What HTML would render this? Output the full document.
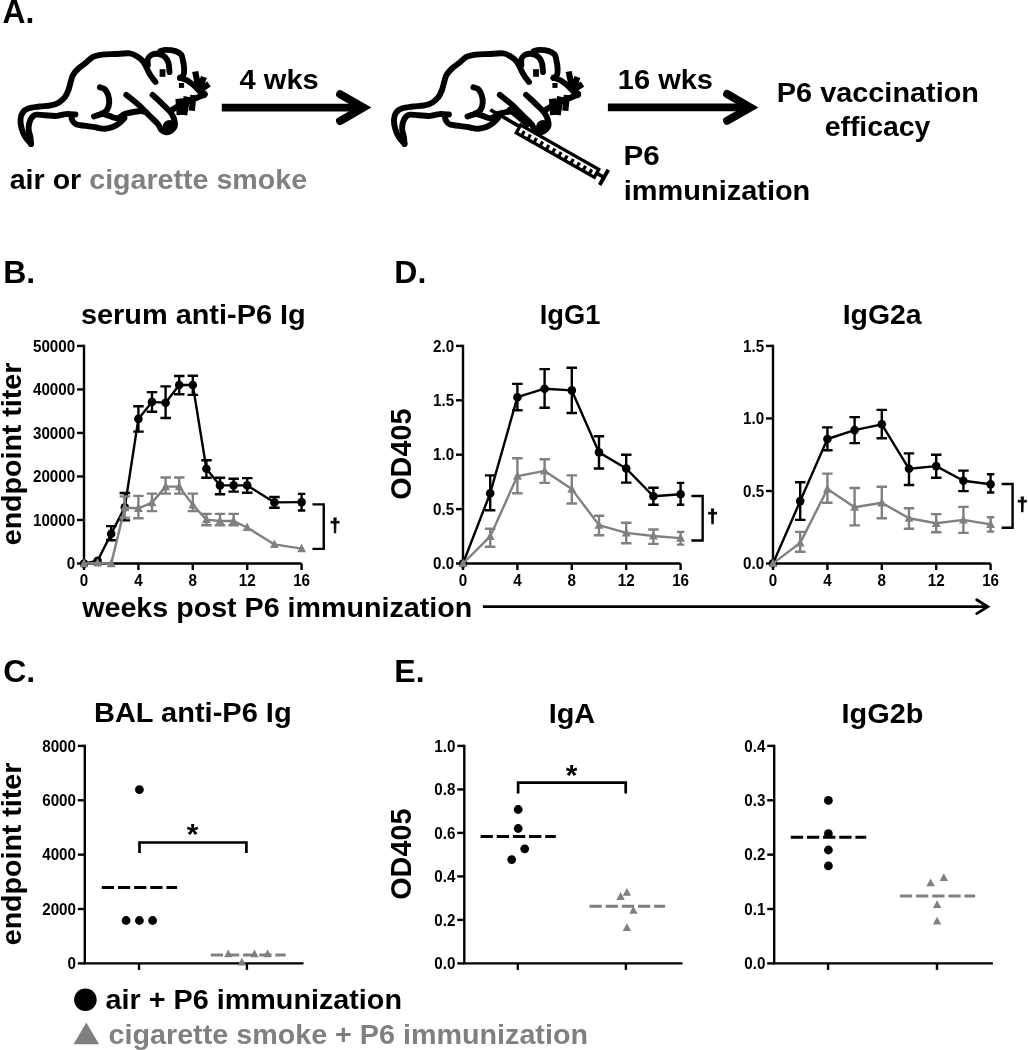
<!DOCTYPE html>
<html><head><meta charset="utf-8"><title>Figure</title>
<style>
html,body{margin:0;padding:0;background:#fff;}
svg{display:block}
svg text{font-family:"Liberation Sans",Arial,Helvetica,sans-serif;font-weight:bold;}
</style></head><body>
<svg width="1028" height="1050" viewBox="0 0 1028 1050">
<rect width="1028" height="1050" fill="#fff"/>
<text x="2.5" y="22.9" font-size="33.5" fill="#000" text-anchor="start" textLength="31.8" lengthAdjust="spacingAndGlyphs" >A.</text>
<text x="3.2" y="283.3" font-size="32" fill="#000" text-anchor="start" >B.</text>
<text x="394.3" y="283.3" font-size="32" fill="#000" text-anchor="start" >D.</text>
<text x="3.2" y="682.3" font-size="32" fill="#000" text-anchor="start" >C.</text>
<text x="394.3" y="682.3" font-size="32" fill="#000" text-anchor="start" >E.</text>
<g transform="translate(0,0)" fill="none" stroke="#000" stroke-width="5.9" stroke-linecap="round" stroke-linejoin="round">
<path d="M31.0,143.9 C30.0,142.7 26.8,139.4 25.2,136.9 C23.6,134.4 22.5,131.6 21.7,128.7 C20.9,125.8 20.3,122.1 20.5,119.4 C20.7,116.7 21.4,114.2 22.8,112.4 C24.2,110.6 26.0,109.3 28.7,108.3 C31.4,107.3 35.5,107.0 39.2,106.5 C42.9,106.0 47.6,106.1 50.9,105.4 C54.2,104.7 56.7,103.8 59.0,102.4 C61.3,101.0 63.3,99.2 64.9,97.2 C66.5,95.2 67.4,92.7 68.4,90.2 C69.4,87.7 69.9,84.5 70.7,82.0 C71.5,79.5 71.6,77.3 73.0,75.0 C74.4,72.7 76.8,70.0 78.9,68.0 C81.1,66.0 83.6,64.6 85.9,62.8 C88.2,60.9 90.2,58.3 92.9,56.9 C95.6,55.5 98.5,55.1 102.2,54.6 C105.9,54.1 110.5,54.2 115.1,54.0 C119.7,53.8 126.2,53.0 129.8,53.4 C133.4,53.8 134.7,55.0 136.8,56.3 C139.0,57.6 141.1,59.2 142.7,61.0 C144.3,62.8 145.0,64.6 146.2,66.8 C147.4,69.0 148.1,71.4 149.7,73.9 C151.2,76.4 154.5,80.7 155.5,82.0"/>
<path d="M31.0,143.9 C30.9,142.7 30.8,139.2 30.4,136.9 C30.0,134.6 28.9,132.2 28.7,129.9 C28.5,127.6 28.7,125.1 29.3,122.9 C29.9,120.8 31.0,118.4 32.2,117.0 C33.4,115.6 34.2,115.0 36.3,114.7 C38.4,114.4 41.6,115.1 45.0,115.3 C48.4,115.5 53.2,116.1 56.7,115.9 C60.2,115.7 62.9,114.3 66.0,114.1 C69.1,113.9 73.8,114.4 75.4,114.5"/>
<path d="M71.3,115.9 C71.5,116.7 71.5,119.0 72.4,120.5 C73.3,122.0 74.2,123.7 76.5,124.6 C78.8,125.5 82.6,125.3 85.9,125.8 C89.2,126.3 93.3,127.0 96.4,127.5 C99.5,128.0 101.9,128.8 104.6,128.7 C107.3,128.6 110.2,128.0 112.7,127.0 C115.2,126.0 117.8,124.4 119.7,122.9 C121.7,121.4 123.6,119.0 124.4,118.2"/>
<path d="M99.9,87.3 C100.7,87.6 103.2,87.7 104.6,89.0 C106.0,90.3 107.3,92.6 108.1,94.9 C108.9,97.2 109.4,100.5 109.2,103.0 C109.0,105.5 108.1,108.2 106.9,110.0 C105.7,111.8 104.4,112.4 102.2,113.5 C100.0,114.6 95.4,116.0 94.0,116.5"/>
<path d="M102.2,113.5 C103.4,113.9 106.7,115.1 109.2,115.9 C111.7,116.7 114.7,118.5 117.4,118.2 C120.1,117.9 121.6,115.1 125.2,113.9 C128.8,112.7 135.9,111.6 139.2,111.2 C142.5,110.8 144.0,111.7 145.0,111.8"/>
<path d="M147.9,65.1 C147.9,64.0 147.2,60.5 147.9,58.7 C148.6,57.0 150.2,55.4 152.0,54.6 C153.8,53.8 156.8,53.6 159.0,54.0 C161.2,54.4 163.3,55.4 164.9,56.9 C166.5,58.4 167.6,60.3 168.4,62.8 C169.2,65.3 169.3,70.5 169.5,72.1"/>
<path d="M160.2,51.1 C161.2,50.9 163.5,49.9 166.0,49.9 C168.5,49.9 172.9,50.3 175.4,51.1 C177.9,51.9 179.9,53.0 181.2,54.6 C182.5,56.2 182.5,58.8 183.0,61.0 C183.5,63.2 184.0,65.7 184.1,68.0 C184.2,70.3 184.2,73.3 183.5,75.0 C182.8,76.7 180.6,77.4 180.0,77.9"/>
<path d="M180.0,77.9 C181.2,78.3 184.7,79.0 187.0,80.3 C189.3,81.6 191.8,83.7 194.0,85.5 C196.2,87.3 198.1,89.9 199.9,91.4 C201.7,92.9 203.8,93.8 204.6,94.3"/>
<path d="M152.6,94.9 C153.7,95.9 156.9,98.8 159.0,100.7 C161.1,102.6 163.0,104.5 164.9,106.5 C166.8,108.5 169.1,110.2 170.7,112.4 C172.2,114.6 173.5,117.1 174.2,119.4 C174.9,121.7 175.4,124.5 174.8,126.4 C174.2,128.3 172.2,130.0 170.7,131.0 C169.2,132.0 167.6,132.4 166.0,132.2 C164.4,132.0 162.8,131.3 161.4,129.9 C160.1,128.5 159.5,126.0 157.9,124.0 C156.3,122.0 153.9,120.1 152.0,118.2 C150.1,116.3 148.3,114.5 146.2,112.4 C144.1,110.3 141.5,107.6 139.2,105.4 C136.9,103.2 134.3,101.2 132.2,99.5 C130.0,97.8 127.3,95.7 126.3,94.9"/>
<path d="M204.6,94.3 C202.7,95.2 197.0,97.7 192.9,99.5 C188.8,101.3 183.5,103.2 180.0,105.0 C176.5,106.8 173.3,109.2 172.0,110.0"/>
</g>
<g transform="translate(0,0)" fill="#000" stroke="none">
<ellipse cx="169.6" cy="126.6" rx="7" ry="6.6"/>
<rect x="159.6" y="69.2" width="5.8" height="7.6"/>
<rect x="178.9" y="83" width="5.2" height="4.9"/>
<circle cx="203.4" cy="94.3" r="4"/>
</g>
<g transform="translate(0,0)" fill="none" stroke="#000" stroke-width="6.2" stroke-linecap="butt">
<path d="M195.2,71.5 L198.7,89 M203.9,77 L199.9,87.9 M209,84 L199.9,90.2"/>
</g>
<g transform="translate(0,0)" fill="none" stroke="#000" stroke-linecap="butt">
<path d="M179.2,98.6 L180.4,115" stroke-width="7.6"/>
<path d="M187,96.6 L183.8,114.8" stroke-width="6.8"/>
<path d="M193.4,95 L191.8,110.8" stroke-width="6.2"/>
</g>
<g transform="translate(373.5,0)" fill="none" stroke="#000" stroke-width="5.9" stroke-linecap="round" stroke-linejoin="round">
<path d="M31.0,143.9 C30.0,142.7 26.8,139.4 25.2,136.9 C23.6,134.4 22.5,131.6 21.7,128.7 C20.9,125.8 20.3,122.1 20.5,119.4 C20.7,116.7 21.4,114.2 22.8,112.4 C24.2,110.6 26.0,109.3 28.7,108.3 C31.4,107.3 35.5,107.0 39.2,106.5 C42.9,106.0 47.6,106.1 50.9,105.4 C54.2,104.7 56.7,103.8 59.0,102.4 C61.3,101.0 63.3,99.2 64.9,97.2 C66.5,95.2 67.4,92.7 68.4,90.2 C69.4,87.7 69.9,84.5 70.7,82.0 C71.5,79.5 71.6,77.3 73.0,75.0 C74.4,72.7 76.8,70.0 78.9,68.0 C81.1,66.0 83.6,64.6 85.9,62.8 C88.2,60.9 90.2,58.3 92.9,56.9 C95.6,55.5 98.5,55.1 102.2,54.6 C105.9,54.1 110.5,54.2 115.1,54.0 C119.7,53.8 126.2,53.0 129.8,53.4 C133.4,53.8 134.7,55.0 136.8,56.3 C139.0,57.6 141.1,59.2 142.7,61.0 C144.3,62.8 145.0,64.6 146.2,66.8 C147.4,69.0 148.1,71.4 149.7,73.9 C151.2,76.4 154.5,80.7 155.5,82.0"/>
<path d="M31.0,143.9 C30.9,142.7 30.8,139.2 30.4,136.9 C30.0,134.6 28.9,132.2 28.7,129.9 C28.5,127.6 28.7,125.1 29.3,122.9 C29.9,120.8 31.0,118.4 32.2,117.0 C33.4,115.6 34.2,115.0 36.3,114.7 C38.4,114.4 41.6,115.1 45.0,115.3 C48.4,115.5 53.2,116.1 56.7,115.9 C60.2,115.7 62.9,114.3 66.0,114.1 C69.1,113.9 73.8,114.4 75.4,114.5"/>
<path d="M71.3,115.9 C71.5,116.7 71.5,119.0 72.4,120.5 C73.3,122.0 74.2,123.7 76.5,124.6 C78.8,125.5 82.6,125.3 85.9,125.8 C89.2,126.3 93.3,127.0 96.4,127.5 C99.5,128.0 101.9,128.8 104.6,128.7 C107.3,128.6 110.2,128.0 112.7,127.0 C115.2,126.0 117.8,124.4 119.7,122.9 C121.7,121.4 123.6,119.0 124.4,118.2"/>
<path d="M99.9,87.3 C100.7,87.6 103.2,87.7 104.6,89.0 C106.0,90.3 107.3,92.6 108.1,94.9 C108.9,97.2 109.4,100.5 109.2,103.0 C109.0,105.5 108.1,108.2 106.9,110.0 C105.7,111.8 104.4,112.4 102.2,113.5 C100.0,114.6 95.4,116.0 94.0,116.5"/>
<path d="M102.2,113.5 C103.4,113.9 106.7,115.1 109.2,115.9 C111.7,116.7 114.7,118.5 117.4,118.2 C120.1,117.9 121.6,115.1 125.2,113.9 C128.8,112.7 135.9,111.6 139.2,111.2 C142.5,110.8 144.0,111.7 145.0,111.8"/>
<path d="M147.9,65.1 C147.9,64.0 147.2,60.5 147.9,58.7 C148.6,57.0 150.2,55.4 152.0,54.6 C153.8,53.8 156.8,53.6 159.0,54.0 C161.2,54.4 163.3,55.4 164.9,56.9 C166.5,58.4 167.6,60.3 168.4,62.8 C169.2,65.3 169.3,70.5 169.5,72.1"/>
<path d="M160.2,51.1 C161.2,50.9 163.5,49.9 166.0,49.9 C168.5,49.9 172.9,50.3 175.4,51.1 C177.9,51.9 179.9,53.0 181.2,54.6 C182.5,56.2 182.5,58.8 183.0,61.0 C183.5,63.2 184.0,65.7 184.1,68.0 C184.2,70.3 184.2,73.3 183.5,75.0 C182.8,76.7 180.6,77.4 180.0,77.9"/>
<path d="M180.0,77.9 C181.2,78.3 184.7,79.0 187.0,80.3 C189.3,81.6 191.8,83.7 194.0,85.5 C196.2,87.3 198.1,89.9 199.9,91.4 C201.7,92.9 203.8,93.8 204.6,94.3"/>
<path d="M152.6,94.9 C153.7,95.9 156.9,98.8 159.0,100.7 C161.1,102.6 163.0,104.5 164.9,106.5 C166.8,108.5 169.1,110.2 170.7,112.4 C172.2,114.6 173.5,117.1 174.2,119.4 C174.9,121.7 175.4,124.5 174.8,126.4 C174.2,128.3 172.2,130.0 170.7,131.0 C169.2,132.0 167.6,132.4 166.0,132.2 C164.4,132.0 162.8,131.3 161.4,129.9 C160.1,128.5 159.5,126.0 157.9,124.0 C156.3,122.0 153.9,120.1 152.0,118.2 C150.1,116.3 148.3,114.5 146.2,112.4 C144.1,110.3 141.5,107.6 139.2,105.4 C136.9,103.2 134.3,101.2 132.2,99.5 C130.0,97.8 127.3,95.7 126.3,94.9"/>
<path d="M204.6,94.3 C202.7,95.2 197.0,97.7 192.9,99.5 C188.8,101.3 183.5,103.2 180.0,105.0 C176.5,106.8 173.3,109.2 172.0,110.0"/>
</g>
<g transform="translate(373.5,0)" fill="#000" stroke="none">
<ellipse cx="169.6" cy="126.6" rx="7" ry="6.6"/>
<rect x="159.6" y="69.2" width="5.8" height="7.6"/>
<rect x="178.9" y="83" width="5.2" height="4.9"/>
<circle cx="203.4" cy="94.3" r="4"/>
</g>
<g transform="translate(373.5,0)" fill="none" stroke="#000" stroke-width="6.2" stroke-linecap="butt">
<path d="M195.2,71.5 L198.7,89 M203.9,77 L199.9,87.9 M209,84 L199.9,90.2"/>
</g>
<g transform="translate(373.5,0)" fill="none" stroke="#000" stroke-linecap="butt">
<path d="M179.2,98.6 L180.4,115" stroke-width="7.6"/>
<path d="M187,96.6 L183.8,114.8" stroke-width="6.8"/>
<path d="M193.4,95 L191.8,110.8" stroke-width="6.2"/>
</g>
<path d="M509.5,109.6 L527.5,124.6" stroke="#000" stroke-width="5.5" stroke-linecap="round" fill="none"/>
<line x1="221.8" y1="107.6" x2="362.6" y2="107.6" stroke="#000" stroke-width="7.7"/>
<polyline points="340.1,94.19999999999999 363.40000000000003,107.6 340.1,121.0" fill="none" stroke="#000" stroke-width="8.0" stroke-linecap="round" stroke-linejoin="miter"/>
<line x1="607.9" y1="107.4" x2="749.6" y2="107.4" stroke="#000" stroke-width="7.7"/>
<polyline points="727.1,94.0 750.4,107.4 727.1,120.80000000000001" fill="none" stroke="#000" stroke-width="8.0" stroke-linecap="round" stroke-linejoin="miter"/>
<text x="239.6" y="88.5" font-size="28.4" fill="#000" text-anchor="start" textLength="79.1" lengthAdjust="spacingAndGlyphs" >4 wks</text>
<text x="617.8" y="88.5" font-size="28.4" fill="#000" text-anchor="start" textLength="95.2" lengthAdjust="spacingAndGlyphs" >16 wks</text>
<text x="9.7" y="189" font-size="28.4" textLength="297.4" lengthAdjust="spacingAndGlyphs">air or <tspan fill="#808080">cigarette smoke</tspan></text>
<text x="776.8" y="102" font-size="28.4" fill="#000" text-anchor="start" textLength="202.2" lengthAdjust="spacingAndGlyphs" >P6 vaccination</text>
<text x="824.7" y="135.8" font-size="28.4" fill="#000" text-anchor="start" textLength="105.7" lengthAdjust="spacingAndGlyphs" >efficacy</text>
<text x="623.6" y="165.4" font-size="28.4" fill="#000" text-anchor="start" textLength="36.2" lengthAdjust="spacingAndGlyphs" >P6</text>
<text x="623.8" y="199.8" font-size="28.4" fill="#000" text-anchor="start" textLength="186.5" lengthAdjust="spacingAndGlyphs" >immunization</text>
<g transform="translate(518.5,128.8) rotate(29.6)" fill="none" stroke="#000">
<rect x="0" y="-4.4" width="89.8" height="9" stroke-width="3.3"/>
<line x1="-34" y1="-2.6" x2="0" y2="-2.6" stroke-width="3.7"/>
<path d="M6.20,4.4 L6.20,-0.9 M13.25,4.4 L13.25,-0.9 M20.30,4.4 L20.30,-0.9 M27.35,4.4 L27.35,-0.9 M34.40,4.4 L34.40,-0.9 M41.45,4.4 L41.45,-0.9 M48.50,4.4 L48.50,-0.9 M55.55,4.4 L55.55,-0.9 M62.60,4.4 L62.60,-0.9 M69.65,4.4 L69.65,-0.9 M76.70,4.4 L76.70,-0.9 M83.75,4.4 L83.75,-0.9" stroke-width="3.2"/>
<line x1="89.8" y1="0" x2="98.3" y2="0" stroke-width="3.6"/>
<line x1="98.3" y1="-8.8" x2="98.3" y2="8.8" stroke-width="3.9"/>
</g>
<path d="M84.0,344.7 L84.0,563.5 L301.6,563.5" fill="none" stroke="#000" stroke-width="2.4" stroke-linecap="butt" stroke-linejoin="miter"/>
<line x1="77.0" y1="563.5" x2="84.0" y2="563.5" stroke="#000" stroke-width="2.4"/>
<text x="75.2" y="569.2" font-size="16.5" fill="#000" text-anchor="end" textLength="8.45" lengthAdjust="spacingAndGlyphs" >0</text>
<line x1="77.0" y1="519.98" x2="84.0" y2="519.98" stroke="#000" stroke-width="2.4"/>
<text x="75.2" y="525.6800000000001" font-size="16.5" fill="#000" text-anchor="end" textLength="42.26" lengthAdjust="spacingAndGlyphs" >10000</text>
<line x1="77.0" y1="476.46" x2="84.0" y2="476.46" stroke="#000" stroke-width="2.4"/>
<text x="75.2" y="482.15999999999997" font-size="16.5" fill="#000" text-anchor="end" textLength="42.26" lengthAdjust="spacingAndGlyphs" >20000</text>
<line x1="77.0" y1="432.94" x2="84.0" y2="432.94" stroke="#000" stroke-width="2.4"/>
<text x="75.2" y="438.64" font-size="16.5" fill="#000" text-anchor="end" textLength="42.26" lengthAdjust="spacingAndGlyphs" >30000</text>
<line x1="77.0" y1="389.41999999999996" x2="84.0" y2="389.41999999999996" stroke="#000" stroke-width="2.4"/>
<text x="75.2" y="395.11999999999995" font-size="16.5" fill="#000" text-anchor="end" textLength="42.26" lengthAdjust="spacingAndGlyphs" >40000</text>
<line x1="77.0" y1="345.9" x2="84.0" y2="345.9" stroke="#000" stroke-width="2.4"/>
<text x="75.2" y="351.59999999999997" font-size="16.5" fill="#000" text-anchor="end" textLength="42.26" lengthAdjust="spacingAndGlyphs" >50000</text>
<line x1="84.0" y1="563.5" x2="84.0" y2="570.0" stroke="#000" stroke-width="2.4"/>
<text x="84.0" y="586.1" font-size="16.5" fill="#000" text-anchor="middle" textLength="8.45" lengthAdjust="spacingAndGlyphs" >0</text>
<line x1="138.4" y1="563.5" x2="138.4" y2="570.0" stroke="#000" stroke-width="2.4"/>
<text x="138.4" y="586.1" font-size="16.5" fill="#000" text-anchor="middle" textLength="8.45" lengthAdjust="spacingAndGlyphs" >4</text>
<line x1="192.8" y1="563.5" x2="192.8" y2="570.0" stroke="#000" stroke-width="2.4"/>
<text x="192.8" y="586.1" font-size="16.5" fill="#000" text-anchor="middle" textLength="8.45" lengthAdjust="spacingAndGlyphs" >8</text>
<line x1="247.20000000000002" y1="563.5" x2="247.20000000000002" y2="570.0" stroke="#000" stroke-width="2.4"/>
<text x="247.20000000000002" y="586.1" font-size="16.5" fill="#000" text-anchor="middle" textLength="16.91" lengthAdjust="spacingAndGlyphs" >12</text>
<line x1="301.6" y1="563.5" x2="301.6" y2="570.0" stroke="#000" stroke-width="2.4"/>
<text x="301.6" y="586.1" font-size="16.5" fill="#000" text-anchor="middle" textLength="16.91" lengthAdjust="spacingAndGlyphs" >16</text>
<text x="193.3" y="323.7" font-size="28.4" fill="#000" text-anchor="middle" textLength="224.8" lengthAdjust="spacingAndGlyphs" >serum anti-P6 Ig</text>
<text transform="translate(21.1,454) rotate(-90)" font-size="27" text-anchor="middle" textLength="182.5" lengthAdjust="spacingAndGlyphs">endpoint titer</text>
<polyline points="84.0,563.6 97.6,560.7 111.2,533.7 124.8,507.2 138.4,418.9 152.0,401.9 165.6,402.8 179.2,385.0 192.8,385.0 206.4,468.8 220.0,485.4 233.6,485.4 247.2,485.4 274.4,502.4 301.6,502.1" fill="none" stroke="#000" stroke-width="2.4" stroke-linejoin="round"/>
<path d="M111.2,526.1 L111.2,540.2 M106.0,526.1 L116.5,526.1 M106.0,540.2 L116.5,540.2" fill="none" stroke="#000" stroke-width="2.4"/>
<path d="M124.8,493.0 L124.8,520.4 M119.6,493.0 L130.1,493.0 M119.6,520.4 L130.1,520.4" fill="none" stroke="#000" stroke-width="2.4"/>
<path d="M138.4,406.2 L138.4,431.6 M133.2,406.2 L143.7,406.2 M133.2,431.6 L143.7,431.6" fill="none" stroke="#000" stroke-width="2.4"/>
<path d="M152.0,392.1 L152.0,411.8 M146.8,392.1 L157.2,392.1 M146.8,411.8 L157.2,411.8" fill="none" stroke="#000" stroke-width="2.4"/>
<path d="M165.6,386.4 L165.6,418.0 M160.4,386.4 L170.9,386.4 M160.4,418.0 L170.9,418.0" fill="none" stroke="#000" stroke-width="2.4"/>
<path d="M179.2,376.0 L179.2,394.3 M174.0,376.0 L184.5,376.0 M174.0,394.3 L184.5,394.3" fill="none" stroke="#000" stroke-width="2.4"/>
<path d="M192.8,375.7 L192.8,394.9 M187.6,375.7 L198.1,375.7 M187.6,394.9 L198.1,394.9" fill="none" stroke="#000" stroke-width="2.4"/>
<path d="M206.4,460.3 L206.4,477.8 M201.2,460.3 L211.7,460.3 M201.2,477.8 L211.7,477.8" fill="none" stroke="#000" stroke-width="2.4"/>
<path d="M220.0,477.8 L220.0,494.2 M214.8,477.8 L225.2,477.8 M214.8,494.2 L225.2,494.2" fill="none" stroke="#000" stroke-width="2.4"/>
<path d="M233.6,478.7 L233.6,491.6 M228.4,478.7 L238.9,478.7 M228.4,491.6 L238.9,491.6" fill="none" stroke="#000" stroke-width="2.4"/>
<path d="M247.2,478.1 L247.2,492.8 M242.0,478.1 L252.5,478.1 M242.0,492.8 L252.5,492.8" fill="none" stroke="#000" stroke-width="2.4"/>
<path d="M274.4,497.0 L274.4,507.7 M269.2,497.0 L279.7,497.0 M269.2,507.7 L279.7,507.7" fill="none" stroke="#000" stroke-width="2.4"/>
<path d="M301.6,493.9 L301.6,510.5 M297.9,493.9 L305.3,493.9 M297.9,510.5 L305.3,510.5" fill="none" stroke="#000" stroke-width="2.4"/>
<circle cx="84.0" cy="563.6" r="4.3" fill="#000"/>
<circle cx="97.6" cy="560.7" r="4.3" fill="#000"/>
<circle cx="111.2" cy="533.7" r="4.3" fill="#000"/>
<circle cx="124.8" cy="507.2" r="4.3" fill="#000"/>
<circle cx="138.4" cy="418.9" r="4.3" fill="#000"/>
<circle cx="152.0" cy="401.9" r="4.3" fill="#000"/>
<circle cx="165.6" cy="402.8" r="4.3" fill="#000"/>
<circle cx="179.2" cy="385.0" r="4.3" fill="#000"/>
<circle cx="192.8" cy="385.0" r="4.3" fill="#000"/>
<circle cx="206.4" cy="468.8" r="4.3" fill="#000"/>
<circle cx="220.0" cy="485.4" r="4.3" fill="#000"/>
<circle cx="233.6" cy="485.4" r="4.3" fill="#000"/>
<circle cx="247.2" cy="485.4" r="4.3" fill="#000"/>
<circle cx="274.4" cy="502.4" r="4.3" fill="#000"/>
<circle cx="301.6" cy="502.1" r="4.3" fill="#000"/>
<polyline points="84.0,563.6 97.6,563.0 111.2,563.6 124.8,507.7 138.4,508.3 152.0,502.6 165.6,486.6 179.2,486.6 192.8,504.9 206.4,519.6 220.0,521.0 233.6,521.0 247.2,527.5 274.4,544.4 301.6,548.6" fill="none" stroke="#808080" stroke-width="2.4" stroke-linejoin="round"/>
<path d="M124.8,496.4 L124.8,517.6 M119.6,496.4 L130.1,496.4 M119.6,517.6 L130.1,517.6" fill="none" stroke="#808080" stroke-width="2.4"/>
<path d="M138.4,495.9 L138.4,518.2 M133.2,495.9 L143.7,495.9 M133.2,518.2 L143.7,518.2" fill="none" stroke="#808080" stroke-width="2.4"/>
<path d="M152.0,493.6 L152.0,511.1 M146.8,493.6 L157.2,493.6 M146.8,511.1 L157.2,511.1" fill="none" stroke="#808080" stroke-width="2.4"/>
<path d="M165.6,477.5 L165.6,493.6 M160.4,477.5 L170.9,477.5 M160.4,493.6 L170.9,493.6" fill="none" stroke="#808080" stroke-width="2.4"/>
<path d="M179.2,477.5 L179.2,493.6 M174.0,477.5 L184.5,477.5 M174.0,493.6 L184.5,493.6" fill="none" stroke="#808080" stroke-width="2.4"/>
<path d="M192.8,493.6 L192.8,511.1 M187.6,493.6 L198.1,493.6 M187.6,511.1 L198.1,511.1" fill="none" stroke="#808080" stroke-width="2.4"/>
<path d="M206.4,513.9 L206.4,525.2 M201.2,513.9 L211.7,513.9 M201.2,525.2 L211.7,525.2" fill="none" stroke="#808080" stroke-width="2.4"/>
<path d="M220.0,513.9 L220.0,525.2 M214.8,513.9 L225.2,513.9 M214.8,525.2 L225.2,525.2" fill="none" stroke="#808080" stroke-width="2.4"/>
<path d="M233.6,513.9 L233.6,525.2 M228.4,513.9 L238.9,513.9 M228.4,525.2 L238.9,525.2" fill="none" stroke="#808080" stroke-width="2.4"/>
<polygon points="84.0,558.6 79.6,567.2 88.4,567.2" fill="#808080"/>
<polygon points="97.6,558.0 93.2,566.6 102.0,566.6" fill="#808080"/>
<polygon points="111.2,558.6 106.8,567.2 115.6,567.2" fill="#808080"/>
<polygon points="124.8,502.7 120.4,511.3 129.2,511.3" fill="#808080"/>
<polygon points="138.4,503.3 134.0,511.9 142.8,511.9" fill="#808080"/>
<polygon points="152.0,497.6 147.6,506.2 156.4,506.2" fill="#808080"/>
<polygon points="165.6,481.6 161.2,490.2 170.0,490.2" fill="#808080"/>
<polygon points="179.2,481.6 174.8,490.2 183.6,490.2" fill="#808080"/>
<polygon points="192.8,499.9 188.4,508.5 197.2,508.5" fill="#808080"/>
<polygon points="206.4,514.6 202.0,523.2 210.8,523.2" fill="#808080"/>
<polygon points="220.0,516.0 215.6,524.6 224.4,524.6" fill="#808080"/>
<polygon points="233.6,516.0 229.2,524.6 238.0,524.6" fill="#808080"/>
<polygon points="247.2,522.5 242.8,531.1 251.6,531.1" fill="#808080"/>
<polygon points="274.4,539.4 270.0,548.0 278.8,548.0" fill="#808080"/>
<polygon points="301.6,543.6 297.2,552.2 306.0,552.2" fill="#808080"/>
<path d="M312.4682651622003,504.3300423131171 L323.75176304654445,504.3300423131171 L323.75176304654445,548.8998589562765 L312.4682651622003,548.8998589562765" fill="none" stroke="#000" stroke-width="2.4"/>
<text x="335.03526093088857" y="530.8462623413259" font-size="19" fill="#000" text-anchor="middle" stroke="#000" stroke-width="0.9">†</text>
<path d="M463.0,344.7 L463.0,563.5 L680.6,563.5" fill="none" stroke="#000" stroke-width="2.4" stroke-linecap="butt" stroke-linejoin="miter"/>
<line x1="456.0" y1="563.5" x2="463.0" y2="563.5" stroke="#000" stroke-width="2.4"/>
<text x="454.2" y="569.2" font-size="16.5" fill="#000" text-anchor="end" textLength="21.13" lengthAdjust="spacingAndGlyphs" >0.0</text>
<line x1="456.0" y1="509.1" x2="463.0" y2="509.1" stroke="#000" stroke-width="2.4"/>
<text x="454.2" y="514.8000000000001" font-size="16.5" fill="#000" text-anchor="end" textLength="21.13" lengthAdjust="spacingAndGlyphs" >0.5</text>
<line x1="456.0" y1="454.7" x2="463.0" y2="454.7" stroke="#000" stroke-width="2.4"/>
<text x="454.2" y="460.4" font-size="16.5" fill="#000" text-anchor="end" textLength="21.13" lengthAdjust="spacingAndGlyphs" >1.0</text>
<line x1="456.0" y1="400.29999999999995" x2="463.0" y2="400.29999999999995" stroke="#000" stroke-width="2.4"/>
<text x="454.2" y="405.99999999999994" font-size="16.5" fill="#000" text-anchor="end" textLength="21.13" lengthAdjust="spacingAndGlyphs" >1.5</text>
<line x1="456.0" y1="345.9" x2="463.0" y2="345.9" stroke="#000" stroke-width="2.4"/>
<text x="454.2" y="351.59999999999997" font-size="16.5" fill="#000" text-anchor="end" textLength="21.13" lengthAdjust="spacingAndGlyphs" >2.0</text>
<line x1="463.0" y1="563.5" x2="463.0" y2="570.0" stroke="#000" stroke-width="2.4"/>
<text x="463.0" y="586.1" font-size="16.5" fill="#000" text-anchor="middle" textLength="8.45" lengthAdjust="spacingAndGlyphs" >0</text>
<line x1="517.4" y1="563.5" x2="517.4" y2="570.0" stroke="#000" stroke-width="2.4"/>
<text x="517.4" y="586.1" font-size="16.5" fill="#000" text-anchor="middle" textLength="8.45" lengthAdjust="spacingAndGlyphs" >4</text>
<line x1="571.8" y1="563.5" x2="571.8" y2="570.0" stroke="#000" stroke-width="2.4"/>
<text x="571.8" y="586.1" font-size="16.5" fill="#000" text-anchor="middle" textLength="8.45" lengthAdjust="spacingAndGlyphs" >8</text>
<line x1="626.2" y1="563.5" x2="626.2" y2="570.0" stroke="#000" stroke-width="2.4"/>
<text x="626.2" y="586.1" font-size="16.5" fill="#000" text-anchor="middle" textLength="16.91" lengthAdjust="spacingAndGlyphs" >12</text>
<line x1="680.6" y1="563.5" x2="680.6" y2="570.0" stroke="#000" stroke-width="2.4"/>
<text x="680.6" y="586.1" font-size="16.5" fill="#000" text-anchor="middle" textLength="16.91" lengthAdjust="spacingAndGlyphs" >16</text>
<text x="570.1" y="323.7" font-size="28.4" fill="#000" text-anchor="middle" textLength="60.6" lengthAdjust="spacingAndGlyphs" >IgG1</text>
<text transform="translate(411.3,454.2) rotate(-90)" font-size="29.8" text-anchor="middle" textLength="91.2" lengthAdjust="spacingAndGlyphs">OD405</text>
<polyline points="463.0,563.5 490.2,493.2 517.4,397.2 544.6,388.7 571.8,390.4 599.0,452.4 626.2,468.5 653.4,496.3 680.6,494.2" fill="none" stroke="#000" stroke-width="2.4" stroke-linejoin="round"/>
<path d="M490.2,475.4 L490.2,510.3 M484.9,475.4 L495.4,475.4 M484.9,510.3 L495.4,510.3" fill="none" stroke="#000" stroke-width="2.4"/>
<path d="M517.4,383.9 L517.4,410.2 M512.1,383.9 L522.6,383.9 M512.1,410.2 L522.6,410.2" fill="none" stroke="#000" stroke-width="2.4"/>
<path d="M544.6,369.1 L544.6,407.8 M539.4,369.1 L549.9,369.1 M539.4,407.8 L549.9,407.8" fill="none" stroke="#000" stroke-width="2.4"/>
<path d="M571.8,367.7 L571.8,413.0 M566.5,367.7 L577.0,367.7 M566.5,413.0 L577.0,413.0" fill="none" stroke="#000" stroke-width="2.4"/>
<path d="M599.0,436.3 L599.0,468.5 M593.8,436.3 L604.2,436.3 M593.8,468.5 L604.2,468.5" fill="none" stroke="#000" stroke-width="2.4"/>
<path d="M626.2,454.8 L626.2,482.6 M621.0,454.8 L631.5,454.8 M621.0,482.6 L631.5,482.6" fill="none" stroke="#000" stroke-width="2.4"/>
<path d="M653.4,487.7 L653.4,504.8 M648.2,487.7 L658.7,487.7 M648.2,504.8 L658.7,504.8" fill="none" stroke="#000" stroke-width="2.4"/>
<path d="M680.6,482.9 L680.6,504.8 M676.9,482.9 L684.3,482.9 M676.9,504.8 L684.3,504.8" fill="none" stroke="#000" stroke-width="2.4"/>
<circle cx="463.0" cy="563.5" r="4.3" fill="#000"/>
<circle cx="490.2" cy="493.2" r="4.3" fill="#000"/>
<circle cx="517.4" cy="397.2" r="4.3" fill="#000"/>
<circle cx="544.6" cy="388.7" r="4.3" fill="#000"/>
<circle cx="571.8" cy="390.4" r="4.3" fill="#000"/>
<circle cx="599.0" cy="452.4" r="4.3" fill="#000"/>
<circle cx="626.2" cy="468.5" r="4.3" fill="#000"/>
<circle cx="653.4" cy="496.3" r="4.3" fill="#000"/>
<circle cx="680.6" cy="494.2" r="4.3" fill="#000"/>
<polyline points="463.0,563.5 490.2,536.4 517.4,476.1 544.6,470.9 571.8,489.1 599.0,525.1 626.2,532.9 653.4,536.0 680.6,538.1" fill="none" stroke="#808080" stroke-width="2.4" stroke-linejoin="round"/>
<path d="M490.2,528.8 L490.2,546.7 M484.9,528.8 L495.4,528.8 M484.9,546.7 L495.4,546.7" fill="none" stroke="#808080" stroke-width="2.4"/>
<path d="M517.4,458.2 L517.4,493.2 M512.1,458.2 L522.6,458.2 M512.1,493.2 L522.6,493.2" fill="none" stroke="#808080" stroke-width="2.4"/>
<path d="M544.6,459.3 L544.6,482.9 M539.4,459.3 L549.9,459.3 M539.4,482.9 L549.9,482.9" fill="none" stroke="#808080" stroke-width="2.4"/>
<path d="M571.8,475.4 L571.8,503.5 M566.5,475.4 L577.0,475.4 M566.5,503.5 L577.0,503.5" fill="none" stroke="#808080" stroke-width="2.4"/>
<path d="M599.0,515.8 L599.0,535.3 M593.8,515.8 L604.2,515.8 M593.8,535.3 L604.2,535.3" fill="none" stroke="#808080" stroke-width="2.4"/>
<path d="M626.2,522.7 L626.2,543.2 M621.0,522.7 L631.5,522.7 M621.0,543.2 L631.5,543.2" fill="none" stroke="#808080" stroke-width="2.4"/>
<path d="M653.4,529.5 L653.4,543.9 M648.2,529.5 L658.7,529.5 M648.2,543.9 L658.7,543.9" fill="none" stroke="#808080" stroke-width="2.4"/>
<path d="M680.6,531.9 L680.6,544.6 M676.9,531.9 L684.3,531.9 M676.9,544.6 L684.3,544.6" fill="none" stroke="#808080" stroke-width="2.4"/>
<polygon points="463.0,558.5 458.6,567.1 467.4,567.1" fill="#808080"/>
<polygon points="490.2,531.4 485.8,540.0 494.6,540.0" fill="#808080"/>
<polygon points="517.4,471.1 513.0,479.7 521.8,479.7" fill="#808080"/>
<polygon points="544.6,465.9 540.2,474.5 549.0,474.5" fill="#808080"/>
<polygon points="571.8,484.1 567.4,492.7 576.2,492.7" fill="#808080"/>
<polygon points="599.0,520.1 594.6,528.7 603.4,528.7" fill="#808080"/>
<polygon points="626.2,527.9 621.8,536.5 630.6,536.5" fill="#808080"/>
<polygon points="653.4,531.0 649.0,539.6 657.8,539.6" fill="#808080"/>
<polygon points="680.6,533.1 676.2,541.7 685.0,541.7" fill="#808080"/>
<path d="M691.3353441184536,495.9309021113244 L702.6460104195229,495.9309021113244 L702.6460104195229,540.4880723882643 L691.3353441184536,540.4880723882643" fill="none" stroke="#000" stroke-width="2.4"/>
<text x="712.5856868659172" y="521.636961886482" font-size="19" fill="#000" text-anchor="middle" stroke="#000" stroke-width="0.9">†</text>
<path d="M773.0,344.7 L773.0,563.5 L990.6,563.5" fill="none" stroke="#000" stroke-width="2.4" stroke-linecap="butt" stroke-linejoin="miter"/>
<line x1="766.0" y1="563.5" x2="773.0" y2="563.5" stroke="#000" stroke-width="2.4"/>
<text x="764.2" y="569.2" font-size="16.5" fill="#000" text-anchor="end" textLength="21.13" lengthAdjust="spacingAndGlyphs" >0.0</text>
<line x1="766.0" y1="490.96666666666664" x2="773.0" y2="490.96666666666664" stroke="#000" stroke-width="2.4"/>
<text x="764.2" y="496.66666666666663" font-size="16.5" fill="#000" text-anchor="end" textLength="21.13" lengthAdjust="spacingAndGlyphs" >0.5</text>
<line x1="766.0" y1="418.4333333333333" x2="773.0" y2="418.4333333333333" stroke="#000" stroke-width="2.4"/>
<text x="764.2" y="424.13333333333327" font-size="16.5" fill="#000" text-anchor="end" textLength="21.13" lengthAdjust="spacingAndGlyphs" >1.0</text>
<line x1="766.0" y1="345.9" x2="773.0" y2="345.9" stroke="#000" stroke-width="2.4"/>
<text x="764.2" y="351.59999999999997" font-size="16.5" fill="#000" text-anchor="end" textLength="21.13" lengthAdjust="spacingAndGlyphs" >1.5</text>
<line x1="773.0" y1="563.5" x2="773.0" y2="570.0" stroke="#000" stroke-width="2.4"/>
<text x="773.0" y="586.1" font-size="16.5" fill="#000" text-anchor="middle" textLength="8.45" lengthAdjust="spacingAndGlyphs" >0</text>
<line x1="827.4" y1="563.5" x2="827.4" y2="570.0" stroke="#000" stroke-width="2.4"/>
<text x="827.4" y="586.1" font-size="16.5" fill="#000" text-anchor="middle" textLength="8.45" lengthAdjust="spacingAndGlyphs" >4</text>
<line x1="881.8" y1="563.5" x2="881.8" y2="570.0" stroke="#000" stroke-width="2.4"/>
<text x="881.8" y="586.1" font-size="16.5" fill="#000" text-anchor="middle" textLength="8.45" lengthAdjust="spacingAndGlyphs" >8</text>
<line x1="936.2" y1="563.5" x2="936.2" y2="570.0" stroke="#000" stroke-width="2.4"/>
<text x="936.2" y="586.1" font-size="16.5" fill="#000" text-anchor="middle" textLength="16.91" lengthAdjust="spacingAndGlyphs" >12</text>
<line x1="990.6" y1="563.5" x2="990.6" y2="570.0" stroke="#000" stroke-width="2.4"/>
<text x="990.6" y="586.1" font-size="16.5" fill="#000" text-anchor="middle" textLength="16.91" lengthAdjust="spacingAndGlyphs" >16</text>
<text x="882.2" y="323.7" font-size="28.4" fill="#000" text-anchor="middle" >IgG2a</text>
<polyline points="773.0,563.4 800.2,501.1 827.4,439.0 854.6,430.1 881.8,424.3 909.0,468.8 936.2,466.1 963.4,480.8 990.6,484.3" fill="none" stroke="#000" stroke-width="2.4" stroke-linejoin="round"/>
<path d="M800.2,482.2 L800.2,519.9 M795.0,482.2 L805.5,482.2 M795.0,519.9 L805.5,519.9" fill="none" stroke="#000" stroke-width="2.4"/>
<path d="M827.4,427.4 L827.4,450.3 M822.1,427.4 L832.6,427.4 M822.1,450.3 L832.6,450.3" fill="none" stroke="#000" stroke-width="2.4"/>
<path d="M854.6,417.1 L854.6,443.1 M849.4,417.1 L859.9,417.1 M849.4,443.1 L859.9,443.1" fill="none" stroke="#000" stroke-width="2.4"/>
<path d="M881.8,409.9 L881.8,438.3 M876.5,409.9 L887.0,409.9 M876.5,438.3 L887.0,438.3" fill="none" stroke="#000" stroke-width="2.4"/>
<path d="M909.0,453.4 L909.0,485.0 M903.8,453.4 L914.2,453.4 M903.8,485.0 L914.2,485.0" fill="none" stroke="#000" stroke-width="2.4"/>
<path d="M936.2,454.8 L936.2,477.8 M931.0,454.8 L941.5,454.8 M931.0,477.8 L941.5,477.8" fill="none" stroke="#000" stroke-width="2.4"/>
<path d="M963.4,470.6 L963.4,491.1 M958.2,470.6 L968.7,470.6 M958.2,491.1 L968.7,491.1" fill="none" stroke="#000" stroke-width="2.4"/>
<path d="M990.6,474.3 L990.6,492.5 M986.9,474.3 L994.3,474.3 M986.9,492.5 L994.3,492.5" fill="none" stroke="#000" stroke-width="2.4"/>
<circle cx="773.0" cy="563.4" r="4.3" fill="#000"/>
<circle cx="800.2" cy="501.1" r="4.3" fill="#000"/>
<circle cx="827.4" cy="439.0" r="4.3" fill="#000"/>
<circle cx="854.6" cy="430.1" r="4.3" fill="#000"/>
<circle cx="881.8" cy="424.3" r="4.3" fill="#000"/>
<circle cx="909.0" cy="468.8" r="4.3" fill="#000"/>
<circle cx="936.2" cy="466.1" r="4.3" fill="#000"/>
<circle cx="963.4" cy="480.8" r="4.3" fill="#000"/>
<circle cx="990.6" cy="484.3" r="4.3" fill="#000"/>
<polyline points="773.0,563.4 800.2,542.9 827.4,489.1 854.6,507.2 881.8,502.8 909.0,518.2 936.2,523.3 963.4,519.9 990.6,524.4" fill="none" stroke="#808080" stroke-width="2.4" stroke-linejoin="round"/>
<path d="M800.2,531.9 L800.2,551.8 M795.0,531.9 L805.5,531.9 M795.0,551.8 L805.5,551.8" fill="none" stroke="#808080" stroke-width="2.4"/>
<path d="M827.4,473.6 L827.4,502.8 M822.1,473.6 L832.6,473.6 M822.1,502.8 L832.6,502.8" fill="none" stroke="#808080" stroke-width="2.4"/>
<path d="M854.6,488.0 L854.6,525.4 M849.4,488.0 L859.9,488.0 M849.4,525.4 L859.9,525.4" fill="none" stroke="#808080" stroke-width="2.4"/>
<path d="M881.8,486.7 L881.8,518.2 M876.5,486.7 L887.0,486.7 M876.5,518.2 L887.0,518.2" fill="none" stroke="#808080" stroke-width="2.4"/>
<path d="M909.0,508.3 L909.0,528.8 M903.8,508.3 L914.2,508.3 M903.8,528.8 L914.2,528.8" fill="none" stroke="#808080" stroke-width="2.4"/>
<path d="M936.2,514.1 L936.2,532.3 M931.0,514.1 L941.5,514.1 M931.0,532.3 L941.5,532.3" fill="none" stroke="#808080" stroke-width="2.4"/>
<path d="M963.4,506.9 L963.4,532.9 M958.2,506.9 L968.7,506.9 M958.2,532.9 L968.7,532.9" fill="none" stroke="#808080" stroke-width="2.4"/>
<path d="M990.6,517.2 L990.6,531.6 M986.9,517.2 L994.3,517.2 M986.9,531.6 L994.3,531.6" fill="none" stroke="#808080" stroke-width="2.4"/>
<polygon points="773.0,558.4 768.6,567.0 777.4,567.0" fill="#808080"/>
<polygon points="800.2,537.9 795.8,546.5 804.6,546.5" fill="#808080"/>
<polygon points="827.4,484.1 823.0,492.7 831.8,492.7" fill="#808080"/>
<polygon points="854.6,502.2 850.2,510.8 859.0,510.8" fill="#808080"/>
<polygon points="881.8,497.8 877.4,506.4 886.2,506.4" fill="#808080"/>
<polygon points="909.0,513.2 904.6,521.8 913.4,521.8" fill="#808080"/>
<polygon points="936.2,518.3 931.8,526.9 940.6,526.9" fill="#808080"/>
<polygon points="963.4,514.9 959.0,523.5 967.8,523.5" fill="#808080"/>
<polygon points="990.6,519.4 986.2,528.0 995.0,528.0" fill="#808080"/>
<path d="M1001.6074305103334,483.92775131096414 L1012.574973437982,483.92775131096414 L1012.574973437982,527.7979230215581 L1001.6074305103334,527.7979230215581" fill="none" stroke="#000" stroke-width="2.4"/>
<text x="1022.1715734996744" y="509.63293004764023" font-size="19" fill="#000" text-anchor="middle" stroke="#000" stroke-width="0.9">†</text>
<text x="82.2" y="616.8" font-size="28.4" fill="#000" text-anchor="start" textLength="390" lengthAdjust="spacingAndGlyphs" >weeks post P6 immunization</text>
<line x1="482.9" y1="606.7" x2="988" y2="606.7" stroke="#000" stroke-width="2.8"/>
<polyline points="976.7,599.8 987.8,606.7 976.7,613.6" fill="none" stroke="#000" stroke-width="2.8" stroke-linejoin="miter" stroke-linecap="round"/>
<path d="M84.8,744.6999999999999 L84.8,963.4 L303.5,963.4" fill="none" stroke="#000" stroke-width="2.4" stroke-linecap="butt" stroke-linejoin="miter"/>
<line x1="77.8" y1="963.4" x2="84.8" y2="963.4" stroke="#000" stroke-width="2.4"/>
<text x="76.0" y="969.1" font-size="16.5" fill="#000" text-anchor="end" textLength="8.45" lengthAdjust="spacingAndGlyphs" >0</text>
<line x1="77.8" y1="909.025" x2="84.8" y2="909.025" stroke="#000" stroke-width="2.4"/>
<text x="76.0" y="914.725" font-size="16.5" fill="#000" text-anchor="end" textLength="33.81" lengthAdjust="spacingAndGlyphs" >2000</text>
<line x1="77.8" y1="854.65" x2="84.8" y2="854.65" stroke="#000" stroke-width="2.4"/>
<text x="76.0" y="860.35" font-size="16.5" fill="#000" text-anchor="end" textLength="33.81" lengthAdjust="spacingAndGlyphs" >4000</text>
<line x1="77.8" y1="800.275" x2="84.8" y2="800.275" stroke="#000" stroke-width="2.4"/>
<text x="76.0" y="805.975" font-size="16.5" fill="#000" text-anchor="end" textLength="33.81" lengthAdjust="spacingAndGlyphs" >6000</text>
<line x1="77.8" y1="745.9" x2="84.8" y2="745.9" stroke="#000" stroke-width="2.4"/>
<text x="76.0" y="751.6" font-size="16.5" fill="#000" text-anchor="end" textLength="33.81" lengthAdjust="spacingAndGlyphs" >8000</text>
<line x1="139" y1="963.4" x2="139" y2="969.9" stroke="#000" stroke-width="2.4"/>
<line x1="246.9" y1="963.4" x2="246.9" y2="969.9" stroke="#000" stroke-width="2.4"/>
<text x="192.8" y="722.4" font-size="28.4" fill="#000" text-anchor="middle" textLength="197.6" lengthAdjust="spacingAndGlyphs" >BAL anti-P6 Ig</text>
<text transform="translate(21.1,854) rotate(-90)" font-size="27" text-anchor="middle" textLength="182.5" lengthAdjust="spacingAndGlyphs">endpoint titer</text>
<circle cx="139.4" cy="789.6" r="4.4" fill="#000"/>
<circle cx="126.1" cy="920.5" r="4.4" fill="#000"/>
<circle cx="139.4" cy="920.5" r="4.4" fill="#000"/>
<circle cx="152.6" cy="920.5" r="4.4" fill="#000"/>
<line x1="101.8" y1="887.5" x2="177.1" y2="887.5" stroke="#000" stroke-width="3.1" stroke-dasharray="12.3,3.85"/>
<line x1="210.8" y1="955.0" x2="285.7" y2="955.0" stroke="#808080" stroke-width="3.1" stroke-dasharray="12.3,3.85"/>
<polygon points="228.3,949.4 224.1,957.2 232.5,957.2" fill="#808080"/>
<polygon points="254.5,949.4 250.3,957.2 258.7,957.2" fill="#808080"/>
<polygon points="267.6,949.4 263.4,957.2 271.8,957.2" fill="#808080"/>
<polygon points="241.9,957.7 237.7,965.5 246.1,965.5" fill="#808080"/>
<path d="M139.5,853.0 L139.5,842.5 L246.4,842.5 L246.4,853.0" fill="none" stroke="#000" stroke-width="2.7"/>
<text x="192.6" y="844.3" font-size="30" fill="#000" text-anchor="middle" >*</text>
<path d="M464.3,744.6999999999999 L464.3,963.4 L682.5,963.4" fill="none" stroke="#000" stroke-width="2.4" stroke-linecap="butt" stroke-linejoin="miter"/>
<line x1="457.3" y1="963.4" x2="464.3" y2="963.4" stroke="#000" stroke-width="2.4"/>
<text x="455.5" y="969.1" font-size="16.5" fill="#000" text-anchor="end" textLength="21.13" lengthAdjust="spacingAndGlyphs" >0.0</text>
<line x1="457.3" y1="919.9" x2="464.3" y2="919.9" stroke="#000" stroke-width="2.4"/>
<text x="455.5" y="925.6" font-size="16.5" fill="#000" text-anchor="end" textLength="21.13" lengthAdjust="spacingAndGlyphs" >0.2</text>
<line x1="457.3" y1="876.4" x2="464.3" y2="876.4" stroke="#000" stroke-width="2.4"/>
<text x="455.5" y="882.1" font-size="16.5" fill="#000" text-anchor="end" textLength="21.13" lengthAdjust="spacingAndGlyphs" >0.4</text>
<line x1="457.3" y1="832.9" x2="464.3" y2="832.9" stroke="#000" stroke-width="2.4"/>
<text x="455.5" y="838.6" font-size="16.5" fill="#000" text-anchor="end" textLength="21.13" lengthAdjust="spacingAndGlyphs" >0.6</text>
<line x1="457.3" y1="789.4" x2="464.3" y2="789.4" stroke="#000" stroke-width="2.4"/>
<text x="455.5" y="795.1" font-size="16.5" fill="#000" text-anchor="end" textLength="21.13" lengthAdjust="spacingAndGlyphs" >0.8</text>
<line x1="457.3" y1="745.9" x2="464.3" y2="745.9" stroke="#000" stroke-width="2.4"/>
<text x="455.5" y="751.6" font-size="16.5" fill="#000" text-anchor="end" textLength="21.13" lengthAdjust="spacingAndGlyphs" >1.0</text>
<line x1="517.8" y1="963.4" x2="517.8" y2="969.9" stroke="#000" stroke-width="2.4"/>
<line x1="625.9" y1="963.4" x2="625.9" y2="969.9" stroke="#000" stroke-width="2.4"/>
<text x="571.9" y="722.8" font-size="28.4" fill="#000" text-anchor="middle" textLength="46.5" lengthAdjust="spacingAndGlyphs" >IgA</text>
<text transform="translate(411.3,854.2) rotate(-90)" font-size="29.8" text-anchor="middle" textLength="91.2" lengthAdjust="spacingAndGlyphs">OD405</text>
<circle cx="518.2" cy="809.5" r="4.4" fill="#000"/>
<circle cx="518.2" cy="828.5" r="4.4" fill="#000"/>
<circle cx="524.7" cy="848.8" r="4.4" fill="#000"/>
<circle cx="511.7" cy="859.6" r="4.4" fill="#000"/>
<line x1="480.6" y1="836.5" x2="555.8" y2="836.5" stroke="#000" stroke-width="3.1" stroke-dasharray="12.3,3.85"/>
<polygon points="620.6,892.1 616.4,899.9 624.8,899.9" fill="#808080"/>
<polygon points="626.9,887.9 622.7,895.7 631.1,895.7" fill="#808080"/>
<polygon points="633.4,906.0 629.2,913.8 637.6,913.8" fill="#808080"/>
<polygon points="626.9,923.3 622.7,931.1 631.1,931.1" fill="#808080"/>
<line x1="589.5" y1="906.2" x2="665.1" y2="906.2" stroke="#808080" stroke-width="3.1" stroke-dasharray="12.3,3.85"/>
<path d="M518.1,793.4 L518.1,782.6 L625.7,782.6 L625.7,793.4" fill="none" stroke="#000" stroke-width="2.7"/>
<text x="571.7" y="785.3" font-size="30" fill="#000" text-anchor="middle" >*</text>
<path d="M774.2,744.6999999999999 L774.2,963.4 L992.9,963.4" fill="none" stroke="#000" stroke-width="2.4" stroke-linecap="butt" stroke-linejoin="miter"/>
<line x1="767.2" y1="963.4" x2="774.2" y2="963.4" stroke="#000" stroke-width="2.4"/>
<text x="765.4000000000001" y="969.1" font-size="16.5" fill="#000" text-anchor="end" textLength="21.13" lengthAdjust="spacingAndGlyphs" >0.0</text>
<line x1="767.2" y1="909.025" x2="774.2" y2="909.025" stroke="#000" stroke-width="2.4"/>
<text x="765.4000000000001" y="914.725" font-size="16.5" fill="#000" text-anchor="end" textLength="21.13" lengthAdjust="spacingAndGlyphs" >0.1</text>
<line x1="767.2" y1="854.65" x2="774.2" y2="854.65" stroke="#000" stroke-width="2.4"/>
<text x="765.4000000000001" y="860.35" font-size="16.5" fill="#000" text-anchor="end" textLength="21.13" lengthAdjust="spacingAndGlyphs" >0.2</text>
<line x1="767.2" y1="800.275" x2="774.2" y2="800.275" stroke="#000" stroke-width="2.4"/>
<text x="765.4000000000001" y="805.975" font-size="16.5" fill="#000" text-anchor="end" textLength="21.13" lengthAdjust="spacingAndGlyphs" >0.3</text>
<line x1="767.2" y1="745.9" x2="774.2" y2="745.9" stroke="#000" stroke-width="2.4"/>
<text x="765.4000000000001" y="751.6" font-size="16.5" fill="#000" text-anchor="end" textLength="21.13" lengthAdjust="spacingAndGlyphs" >0.4</text>
<line x1="828.1" y1="963.4" x2="828.1" y2="969.9" stroke="#000" stroke-width="2.4"/>
<line x1="937" y1="963.4" x2="937" y2="969.9" stroke="#000" stroke-width="2.4"/>
<text x="882.5" y="722.9" font-size="28.4" fill="#000" text-anchor="middle" textLength="81.9" lengthAdjust="spacingAndGlyphs" >IgG2b</text>
<circle cx="828.4" cy="800.4" r="4.4" fill="#000"/>
<circle cx="828.4" cy="833.7" r="4.4" fill="#000"/>
<circle cx="828.4" cy="850.0" r="4.4" fill="#000"/>
<circle cx="828.4" cy="865.9" r="4.4" fill="#000"/>
<line x1="790.8" y1="837.3" x2="866.2" y2="837.3" stroke="#000" stroke-width="3.1" stroke-dasharray="12.3,3.85"/>
<polygon points="930.6,878.4 926.4,886.2 934.8,886.2" fill="#808080"/>
<polygon points="943.8,873.3 939.6,881.1 948.0,881.1" fill="#808080"/>
<polygon points="937.1,900.3 932.9,908.1 941.3,908.1" fill="#808080"/>
<polygon points="937.1,916.7 932.9,924.5 941.3,924.5" fill="#808080"/>
<line x1="899.9" y1="896.0" x2="975.1" y2="896.0" stroke="#808080" stroke-width="3.1" stroke-dasharray="12.3,3.85"/>
<circle cx="85.4" cy="999.8" r="11.3" fill="#000"/>
<text x="105.6" y="1008.6" font-size="28.4" fill="#000" text-anchor="start" textLength="296.4" lengthAdjust="spacingAndGlyphs" >air + P6 immunization</text>
<polygon points="86.3,1022.4 73.5,1044.2 99.1,1044.2" fill="#808080"/>
<text x="108.5" y="1043.7" font-size="28.4" fill="#808080" text-anchor="start" textLength="479.5" lengthAdjust="spacingAndGlyphs" >cigarette smoke + P6 immunization</text>
</svg>
</body></html>
